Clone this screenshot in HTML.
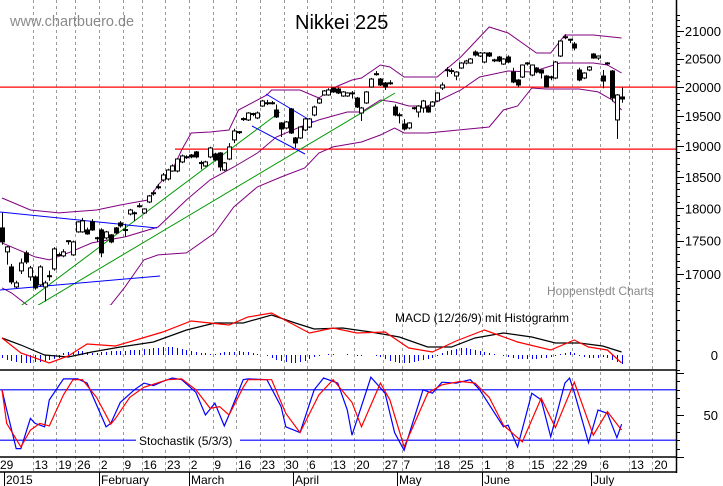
<!DOCTYPE html>
<html><head><meta charset="utf-8"><style>
html,body{margin:0;padding:0;background:#fff;}
svg{display:block;font-family:"Liberation Sans",Arial,sans-serif;}
</style></head><body>
<svg id="chart" width="723" height="486" viewBox="0 0 723 486" xmlns="http://www.w3.org/2000/svg">
<defs><clipPath id="pclip"><rect x="0" y="0" width="676" height="305"/></clipPath></defs>
<rect x="0" y="0" width="723" height="486" fill="#fff"/>
<g id="grid"></g>
<g id="price" clip-path="url(#pclip)"></g>
<g id="macd"></g>
<g id="stoch"></g>
<g id="axes"></g>
<text x="10" y="26" font-size="14.5" fill="#8a8a8a">www.chartbuero.de</text>
<text x="295" y="29" font-size="20" fill="#000">Nikkei 225</text>
<text x="547" y="295" font-size="12" fill="#8a8a8a">Hoppenstedt Charts</text>
<text x="395" y="322" font-size="12" fill="#000">MACD (12/26/9) mit Histogramm</text>
</svg>
<script>
// ---- data ----
const open  = [17695,17330,17105,16810,17046,17315,16957,16957,16840,16810,16960,17075,17280,17270,17490,17285,17634,17634,17664,17788,17535,17664,17542,17588,17695,17772,17660,17911,17920,18030,17927,18099,18235,18330,18449,18465,18593,18593,18740,18815,18854,18904,18720,18675,18822,18871,18887,18609,18788,19102,19230,19445,19437,19530,19471,19674,19720,19725,19606,19386,19302,19623,19135,19135,19268,19318,19521,19726,19864,19864,19985,19967,19846,19846,19895,19811,19555,19726,20002,20220,20141,20072,20065,19657,19515,19369,19302,19635,19572,19640,19657,19674,19760,19985,20295,20280,20194,20335,20423,20423,20620,20548,20441,20602,20470,20530,20405,20530,20264,20124,20176,20415,20211,20335,20300,20194,20170,20159,20548,20885,20840,20764,20300,20159,20300,20584,20512,20194,20415,20282,19437,19829];
const close = [17481,17405,16883,16869,17164,17179,17090,16796,17105,16869,16975,17375,17290,17330,17500,17481,17788,17803,17603,17664,17545,17315,17634,17481,17618,17726,17670,17973,17930,18040,17989,18194,18245,18340,18529,18609,18675,18788,18838,18825,18822,18822,18730,18740,18969,18772,18658,18724,18986,19251,19240,19460,19555,19545,19555,19760,19730,19730,19488,19285,19403,19218,19052,19318,19454,19454,19657,19794,19933,19950,19916,19898,19916,19898,19900,19657,19640,19916,20141,20235,20037,20002,20075,19521,19525,19285,19386,19645,19674,19760,19572,19743,19898,20037,20305,20290,20264,20423,20459,20495,20566,20602,20602,20548,20480,20459,20495,20441,20089,20037,20388,20425,20388,20264,20247,20002,20180,20441,20818,20895,20850,20692,20124,20247,20353,20512,20548,20106,20425,19811,19864,19794];
const high  = [17930,17420,17150,16900,17230,17350,17120,16980,17130,16900,17050,17400,17320,17370,17500,17500,17800,17850,17700,17830,17560,17690,17650,17600,17710,17800,17760,17990,17950,18080,18000,18210,18280,18380,18560,18630,18700,18800,18860,18850,18870,18920,18760,18760,18990,18890,18900,18740,19050,19290,19250,19480,19570,19560,19580,19780,19780,19760,19700,19400,19420,19640,19150,19330,19470,19470,19680,19810,19950,19980,20000,19990,19930,19910,19930,19830,19660,19930,20160,20280,20160,20090,20120,19700,19560,19450,19400,19660,19690,19780,19680,19760,19910,20080,20350,20330,20280,20440,20480,20510,20650,20620,20620,20620,20500,20550,20510,20560,20340,20140,20400,20440,20400,20350,20310,20210,20200,20460,20830,20940,20860,20800,20340,20260,20370,20600,20560,20300,20440,20300,19880,19990];
const low   = [17440,17140,16850,16790,17000,17150,16900,16770,16820,16600,16900,17050,17260,17250,17440,17270,17620,17620,17590,17650,17480,17250,17520,17460,17600,17700,17560,17890,17800,18010,17910,18080,18200,18300,18420,18440,18580,18570,18720,18790,18800,18800,18620,18660,18800,18750,18590,18590,18770,19050,19200,19420,19420,19500,19450,19660,19690,19700,19470,19150,19280,19200,18970,19120,19250,19300,19500,19710,19850,19850,19900,19880,19830,19830,19800,19640,19420,19710,19990,20200,20020,19950,20040,19500,19380,19260,19280,19610,19480,19560,19560,19660,19740,19950,20180,20230,20120,20320,20400,20410,20540,20530,20420,20530,20440,20440,20390,20420,20070,20000,20160,20380,20190,20240,20150,19990,20120,20140,20530,20850,20780,20650,20100,20140,20280,20500,20480,19980,20380,19750,19120,19730];
const upperIdx = [0,6,12,20,25,31,33,36,38,40,44,48,50,56,57,63,67,70,74,76,80,82,85,92,97,103,107,113,116,119,125,131];
const upperBand = [18162,17973,17927,17973,18052,18131,18369,18609,18937,19218,19235,19268,19606,19864,19950,19950,19811,19985,20124,20159,20388,20353,20176,20176,20530,21073,20964,20602,20602,20927,20927,20873];
const midIdx = [0,7,10,14,19,26,33,39,44,49,54,58,63,67,73,76,80,83,86,90,97,101,107,112,118,125,128,131];
const midBand = [17466,17255,17210,17315,17466,17557,17710,18131,18449,18658,18887,19151,19318,19437,19572,19572,19777,19743,19674,19674,19950,20176,20282,20264,20423,20423,20388,20247];
const lowerIdx = [0,2,8,16,23,26,30,33,39,45,49,54,59,64,67,70,76,80,83,85,90,103,106,109,112,115,122,126,129,131];
const lowerBand = [16796,16723,16408,16365,16550,16810,17210,17285,17315,17618,18020,18337,18497,18642,18887,18986,19068,19185,19302,19218,19218,19318,19606,19674,19985,19967,19967,19916,19777,19606];
const priceTicks = [17000,17500,18000,18500,19000,19500,20000,20500,21000];
const supportLevels = [20000,18950];
const macdIdx = [0,4,9,14,19,25,32,39,45,51,57,62,66,72,78,84,90,95,100,106,112,117,122,127,131];
const macdLine = [170,100,0,-20,30,80,130,250,320,320,400,320,260,270,230,180,80,80,170,220,180,120,120,90,30];
const signalIdx = [0,4,10,14,18,24,29,34,40,48,52,57,61,65,70,75,81,86,91,96,102,109,116,121,124,128,131];
const signalLine = [170,20,-80,-10,110,90,160,230,340,300,380,420,320,220,270,220,230,70,30,140,250,130,50,150,80,50,-80];
const histogram = [-30,-50,-60,-70,-80,-80,-80,-70,-70,-60,-50,-40,-30,20,30,30,40,40,30,20,20,30,30,40,40,40,40,50,50,50,60,60,70,70,80,80,80,70,60,50,40,30,20,20,10,10,20,30,30,30,40,30,30,20,10,0,-10,-30,-50,-60,-70,-80,-80,-70,-60,-40,-20,-10,0,10,10,0,0,10,0,-10,-10,0,0,-10,-20,-40,-60,-70,-80,-80,-80,-70,-60,-50,-40,-30,-10,20,40,50,60,70,70,60,50,40,30,20,10,0,-10,-20,-30,-40,-40,-40,-40,-40,-30,-30,-20,-10,10,20,30,20,-10,-20,-30,-30,-30,-20,-30,-50,-70,-90];
const kIdx = [0,1,3,4,6,7,9,10,13,16,18,22,23,25,28,30,32,34,36,38,41,43,45,47,48,51,52,56,59,60,63,66,68,71,73,74,78,81,83,85,89,91,93,96,99,101,106,107,109,112,114,116,119,120,121,124,126,128,130,131];
const kLine = [80,56,10,10,46,40,36,68,93,93,88,36,40,65,80,88,85,90,94,92,77,50,64,37,50,92,93,92,60,36,29,80,94,88,56,26,95,76,29,8,80,76,89,88,92,80,36,38,12,76,68,24,88,94,77,17,56,52,23,39];
const dIdx = [0,1,4,6,8,10,13,15,17,20,23,24,27,30,35,38,41,44,46,48,51,52,57,60,63,67,70,74,76,80,82,85,90,93,97,100,103,106,110,114,117,121,125,128,131];
const dLine = [80,40,12,32,40,37,74,92,92,71,39,46,71,83,92,93,80,58,60,50,83,92,92,52,29,74,92,65,36,88,68,12,76,86,90,88,71,38,18,70,35,89,26,54,32];
const stochLevels = [80,20];
const dateIdx = [7,12,16,21,26,30,35,40,45,50,55,60,65,70,75,81,85,92,97,102,107,112,117,121,127,133,138];
const dateLabels = ["13","19","26","2","9","16","23","2","9","16","23","30","6","13","20","27","7","18","25","1","8","15","22","29","6","13","20"];
const monthIdx = [1,21,40,62,84,102,125];
const monthLabels = ["2015","February","March","April","May","June","July"];

// ---- scales ----
const NS="http://www.w3.org/2000/svg";
const X0=2, DX=4.73;
function xs(i){return X0+i*DX;}
function yp(v){return 31+1150*Math.log(21000/v);}
function ym(v){return 355-v*0.1;}
function yk(v){return 457-v*0.84;}
function mk(parent,tag,attrs){const e=document.createElementNS(NS,tag);for(const k in attrs)e.setAttribute(k,attrs[k]);document.getElementById(parent).appendChild(e);return e;}
function poly(idx,vals,fy){return idx.map((i,j)=>xs(i).toFixed(1)+","+fy(vals[j]).toFixed(1)).join(" ");}

// grid
dateIdx.forEach((d,j)=>{
  const x=Math.round(xs(d)-2.3)+0.5;
  const g=mk("grid","line",{x1:x,y1:0,x2:x,y2:472,stroke:"#9a9a9a","stroke-dasharray":"3,3","stroke-width":1});
  
  
});

// bands
[[upperIdx,upperBand,'upper-bollinger-band'],[midIdx,midBand,'middle-bollinger-band'],[lowerIdx,lowerBand,'lower-bollinger-band']].forEach(b=>{
  const p=mk("price","polyline",{points:poly(b[0],b[1],yp),fill:"none",stroke:"#800080","stroke-width":1});
  
  
});
// support/resistance lines
const sl1=mk("price","line",{x1:0,y1:yp(supportLevels[0]),x2:676,y2:yp(supportLevels[0]),stroke:"#ff0000","stroke-width":1.2});


const sl2=mk("price","line",{x1:175,y1:yp(supportLevels[1]),x2:676,y2:yp(supportLevels[1]),stroke:"#ff0000","stroke-width":1.2});


// trend lines (drawn annotations)
[[18,308,280,112,"#009900"],[35,307,395,93,"#009900"],[0,212,157,228,"#0000ff"],[0,290,160,276,"#0000ff"],[266,94,313,122,"#0000ff"],[252,126,305,154,"#0000ff"]].forEach((l,j)=>{
  const t=mk("price","line",{x1:l[0],y1:l[1],x2:l[2],y2:l[3],stroke:l[4],"stroke-width":1});
  
  
});
// candles
open.forEach((o,i)=>{
  const c=close[i], x=Math.round(xs(i));
  const w=mk("price","line",{x1:x+0.5,y1:yp(high[i]),x2:x+0.5,y2:yp(low[i]),stroke:"#000","stroke-width":1});
  
  
  const top=yp(Math.max(o,c)), bot=yp(Math.min(o,c));
  const h=Math.max(bot-top,1);
  const r=mk("price","rect",{x:x-1.5,y:top,width:4,height:h,fill:c>=o?"#fff":"#000",stroke:"#000","stroke-width":1});
  
  
});

// MACD
histogram.forEach((v,i)=>{
  const x=Math.round(xs(i))+0.5;
  const b=mk("macd","line",{x1:x,y1:ym(0),x2:x,y2:ym(v),stroke:"#0000ff","stroke-width":1});
  
  
});
const ml=mk("macd","polyline",{points:poly(macdIdx,macdLine,ym),fill:"none",stroke:"#000","stroke-width":1.2});


const sg=mk("macd","polyline",{points:poly(signalIdx,signalLine,ym),fill:"none",stroke:"#ff0000","stroke-width":1.2});



// Stochastic
stochLevels.forEach(v=>{
  const l=mk("stoch","line",{x1:0,y1:yk(v),x2:676,y2:yk(v),stroke:"#0000ff","stroke-width":1.2});
  
  
});
const kl=mk("stoch","polyline",{points:poly(kIdx,kLine,yk),fill:"none",stroke:"#0000ff","stroke-width":1.2});


const dl=mk("stoch","polyline",{points:poly(dIdx,dLine,yk),fill:"none",stroke:"#ff0000","stroke-width":1.2});


const sbg=mk("stoch","rect",{x:136,y:432,width:104,height:16,fill:"#fff"});


const st=mk("stoch","text",{x:139,y:445,"font-size":12,fill:"#000"});
st.textContent="Stochastik (5/3/3)";



// axes
[[0,370,676,370],[0,457,676,457],[0,472,676,472],[676.5,0,676.5,473]].forEach(l=>{
  const a=mk("axes","line",{x1:l[0],y1:l[1],x2:l[2],y2:l[3],stroke:"#000","stroke-width":1.5});
  
  
});
for(let v=16600;v<=21300;v+=100){
  const y=Math.round(yp(v))+0.5;
  const major=v%500===0;
  const t=mk("axes","line",{x1:676,y1:y,x2:major?684:680,y2:y,stroke:"#000","stroke-width":1});
  
  
}
priceTicks.forEach(v=>{
  const t=mk("axes","text",{x:721,y:yp(v)+5,"font-size":13,"text-anchor":"end",fill:"#000"});
  t.textContent=String(v);
  
  
});
for(let v=-150;v<=450;v+=100){
  const y=Math.round(ym(v))+0.5;
  const t=mk("axes","line",{x1:676,y1:y,x2:680,y2:y,stroke:"#000","stroke-width":1});
  
  
}
const m0=mk("axes","text",{x:718,y:ym(0)+5,"font-size":13,"text-anchor":"end",fill:"#000"});
m0.textContent="0";


for(let v=0;v<=100;v+=10){
  const y=Math.round(yk(v))+0.5;
  const t=mk("axes","line",{x1:676,y1:y,x2:v%50===0?684:680,y2:y,stroke:"#000","stroke-width":1});
  
  
}
const s50=mk("axes","text",{x:718,y:yk(50)+5,"font-size":13,"text-anchor":"end",fill:"#000"});
s50.textContent="50";



// date labels
const d0=mk("axes","text",{x:0,y:469,"font-size":12,fill:"#000"});
d0.textContent="29";


dateIdx.forEach((d,j)=>{
  const t=mk("axes","text",{x:xs(d)-0.5,y:469,"font-size":12,fill:"#000"});
  t.textContent=dateLabels[j];
  
  
});
monthIdx.forEach((d,j)=>{
  const x=Math.round(xs(d)-2.3)+0.5;
  const l=mk("axes","line",{x1:x,y1:472,x2:x,y2:486,stroke:"#000","stroke-width":1});
  
  
  const t=mk("axes","text",{x:x+1.5,y:484,"font-size":12,fill:"#000"});
  t.textContent=monthLabels[j];
  
  
});
</script>
</body></html>
